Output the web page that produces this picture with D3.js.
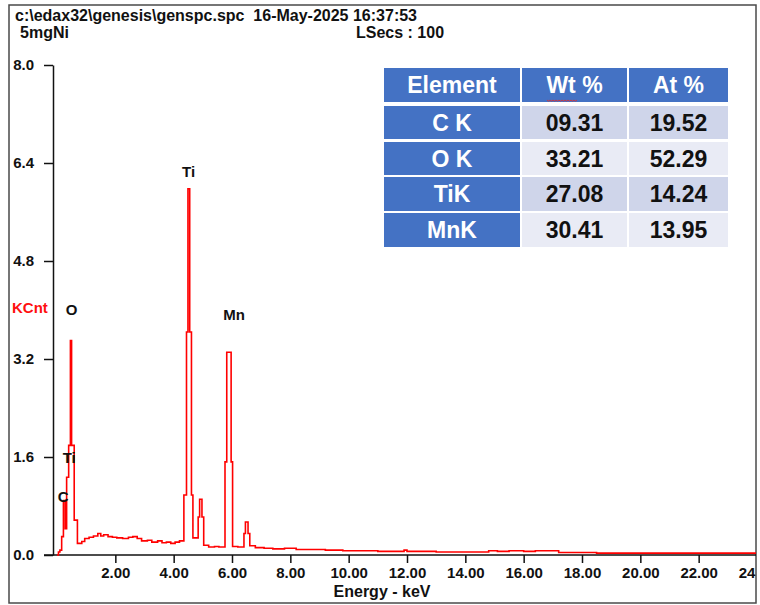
<!DOCTYPE html>
<html>
<head>
<meta charset="utf-8">
<script src="https://cdn.jsdelivr.net/npm/d3@7"></script>
<style>
  html, body { margin: 0; padding: 0; background: #fff; }
  svg { display: block; font-family: "Liberation Sans", Arial, sans-serif; }
  text { white-space: pre; }
</style>
</head>
<body>
<svg id="chart" width="760" height="605"></svg>
<script>
// ---- spectrum (EDAX Genesis export): channel start energy (keV) and level (KCnt)
const energyKeV = [
  0.00, 0.05, 0.10, 0.16, 0.22, 0.28, 0.33, 0.40, 0.46, 0.50, 0.59, 0.70,
  0.85, 0.95, 1.10, 1.25, 1.40, 1.50, 1.60, 1.75, 1.90, 2.05, 2.25, 2.45,
  2.60, 2.75, 2.90, 3.10, 3.25, 3.45, 3.60, 3.75, 3.90, 4.05, 4.20, 4.35,
  4.44, 4.49, 4.55, 4.61, 4.66, 4.84, 4.89, 4.97, 5.03, 5.20, 5.40, 5.55,
  5.76, 5.82, 5.97, 6.02, 6.20, 6.41, 6.46, 6.55, 6.61, 6.80, 7.10, 7.40,
  7.80, 8.20, 8.70, 9.20, 9.80, 10.40, 11.00, 11.90, 12.00, 13.00, 14.80, 15.10,
  15.50, 16.00, 16.40, 17.20, 18.50, 24.00
];
const kcnt = [
  0.00, 0.05, 0.08, 0.30, 0.89, 0.43, 1.27, 1.79, 3.50, 1.79, 0.57, 0.19,
  0.22, 0.27, 0.29, 0.31, 0.35, 0.31, 0.33, 0.30, 0.29, 0.28, 0.27, 0.29,
  0.30, 0.27, 0.23, 0.24, 0.21, 0.23, 0.20, 0.21, 0.19, 0.21, 0.23, 0.98,
  3.64, 5.98, 3.64, 0.98, 0.28, 0.62, 0.91, 0.62, 0.16, 0.13, 0.14, 0.13,
  1.52, 3.31, 1.52, 0.14, 0.13, 0.35, 0.54, 0.35, 0.15, 0.12, 0.11, 0.10,
  0.11, 0.09, 0.09, 0.08, 0.07, 0.07, 0.06, 0.08, 0.06, 0.05, 0.07, 0.06,
  0.07, 0.06, 0.07, 0.04, 0.03, 0.03
];

// peak identifications: symbol, energy (keV) and height (KCnt) where the label sits
const peakNames  = ["C", "Ti", "O", "Ti", "Mn"];
const peakEnergy = [0.21, 0.42, 0.50, 4.51, 6.07];
const peakLevel  = [0.95, 1.58, 4.01, 6.26, 3.93];

// axis ticks
const yTicks = [0.0, 1.6, 3.2, 4.8, 6.4, 8.0];
const xTicks = [2, 4, 6, 8, 10, 12, 14, 16, 18, 20, 22, 24];

// header block
const headerPath = "c:\\edax32\\genesis\\genspc.spc  16-May-2025 16:37:53";
const sampleName = "5mgNi";
const liveSecs   = "LSecs : 100";

// quantification table
const tableHeader = ["Element", "Wt %", "At %"];
const elements    = ["C K", "O K", "TiK", "MnK"];
const wtPercent   = ["09.31", "33.21", "27.08", "30.41"];
const atPercent   = ["19.52", "52.29", "14.24", "13.95"];

// ---------------------------------------------------------------------------
const svg = d3.select("#chart");
const FONT = "Liberation Sans, Arial, sans-serif";

// outer frame
const frame = { x: 9, y: 5, w: 747, h: 598 };
svg.append("defs").append("clipPath").attr("id", "frameClip")
  .append("rect").attr("x", frame.x).attr("y", frame.y).attr("width", frame.w).attr("height", frame.h);
svg.append("rect")
  .attr("x", frame.x).attr("y", frame.y).attr("width", frame.w).attr("height", frame.h)
  .attr("fill", "#fff").attr("stroke", "#4a4a4a").attr("stroke-width", 1.5);

const g = svg.append("g").attr("clip-path", "url(#frameClip)");

// header text
const headStyle = t => t.attr("font-size", 16).attr("font-weight", "bold").attr("fill", "#111");
g.append("text").attr("x", 15).attr("y", 21).text(headerPath).call(headStyle);
g.append("text").attr("x", 20).attr("y", 38).text(sampleName).call(headStyle);
g.append("text").attr("x", 356).attr("y", 38).text(liveSecs).call(headStyle);

// scales
const x = d3.scaleLinear().domain([0, 24]).range([57, 757]);
const y = d3.scaleLinear().domain([0, 8]).range([555, 65]);
const yAxisX = 53;

// x axis baseline (runs under the y axis stub out to the frame)
g.append("line").attr("x1", 44).attr("x2", 760).attr("y1", y(0)).attr("y2", y(0))
  .attr("stroke", "#111").attr("stroke-width", 1.5);

const xAxis = g.append("g").attr("transform", `translate(0,${y(0)})`)
  .call(d3.axisBottom(x).tickValues(xTicks).tickFormat(d3.format(".2f"))
        .tickSize(8).tickSizeOuter(0).tickPadding(4));
xAxis.select(".domain").remove();
xAxis.selectAll("line").attr("stroke", "#111").attr("stroke-width", 1.5);
xAxis.selectAll("text").attr("font-family", FONT).attr("font-size", 15)
  .attr("font-weight", "bold").attr("fill", "#111");

const yAxis = g.append("g").attr("transform", `translate(${yAxisX},0)`)
  .call(d3.axisLeft(y).tickValues(yTicks).tickFormat(d3.format(".1f"))
        .tickSize(9).tickSizeOuter(0).tickPadding(10));
yAxis.select(".domain").attr("stroke", "#111").attr("stroke-width", 1.5);
yAxis.selectAll("line").attr("stroke", "#111").attr("stroke-width", 1.5);
yAxis.selectAll("text").attr("font-family", FONT).attr("font-size", 15)
  .attr("font-weight", "bold").attr("fill", "#111");

// axis titles
g.append("text").attr("x", 12).attr("y", 313).text("KCnt")
  .attr("font-size", 15).attr("font-weight", "bold").attr("fill", "#ff1010");
g.append("text").attr("x", 382).attr("y", 597).attr("text-anchor", "middle")
  .text("Energy - keV").attr("font-size", 16).attr("font-weight", "bold").attr("fill", "#111");

// spectrum trace
const spectrum = energyKeV.map((e, i) => [e, kcnt[i]]);
g.append("path").datum(spectrum)
  .attr("d", d3.line().x(d => x(d[0])).y(d => y(d[1])).curve(d3.curveStepAfter))
  .attr("fill", "none").attr("stroke", "#ff0000").attr("stroke-width", 1.6)
  .attr("stroke-linejoin", "miter");

// peak labels
g.selectAll("text.peak").data(peakNames).join("text").attr("class", "peak")
  .attr("x", (d, i) => x(peakEnergy[i]))
  .attr("y", (d, i) => y(peakLevel[i]))
  .attr("text-anchor", "middle").attr("dy", "0.35em")
  .attr("font-size", 15).attr("font-weight", "bold").attr("fill", "#111")
  .text(d => d);

// quantification table
const colX = [384, 522, 629];
const colW = [136, 105, 99];
const rowY = [68, 106, 142, 177, 213];
const rowH = [34, 33, 33, 34, 34];
const BLUE = "#4472c4";
const bandFill = ["#cfd5ea", "#e9ebf5"];
const rows = elements.map((el, i) => [el, wtPercent[i], atPercent[i]]);
const tbl = g.append("g");

tableHeader.forEach((h, c) => {
  tbl.append("rect").attr("x", colX[c]).attr("y", rowY[0]).attr("width", colW[c]).attr("height", rowH[0])
    .attr("fill", BLUE);
  tbl.append("text").attr("x", colX[c] + colW[c] / 2).attr("y", rowY[0] + rowH[0] / 2)
    .attr("dy", "0.36em").attr("text-anchor", "middle")
    .attr("font-size", 23).attr("font-weight", "bold").attr("fill", "#fff").text(h);
});
// spell-check squiggle under "Wt"
{
  const sq = d3.path();
  const x0 = 547, x1 = 578, yy = 100;
  sq.moveTo(x0, yy);
  for (let xx = x0 + 1.5, k = 1; xx <= x1; xx += 1.5, k++) sq.lineTo(xx, yy + (k % 2 ? 1.2 : 0));
  tbl.append("path").attr("d", sq.toString()).attr("fill", "none")
    .attr("stroke", "#e03030").attr("stroke-width", 0.9);
}

rows.forEach((r, i) => {
  r.forEach((v, c) => {
    tbl.append("rect").attr("x", colX[c]).attr("y", rowY[i + 1]).attr("width", colW[c]).attr("height", rowH[i + 1])
      .attr("fill", c === 0 ? BLUE : bandFill[i % 2]);
    tbl.append("text").attr("x", colX[c] + colW[c] / 2).attr("y", rowY[i + 1] + rowH[i + 1] / 2)
      .attr("dy", "0.36em").attr("text-anchor", "middle")
      .attr("font-size", 23).attr("font-weight", "bold")
      .attr("fill", c === 0 ? "#fff" : "#111").text(v);
  });
});
</script>
</body>
</html>
